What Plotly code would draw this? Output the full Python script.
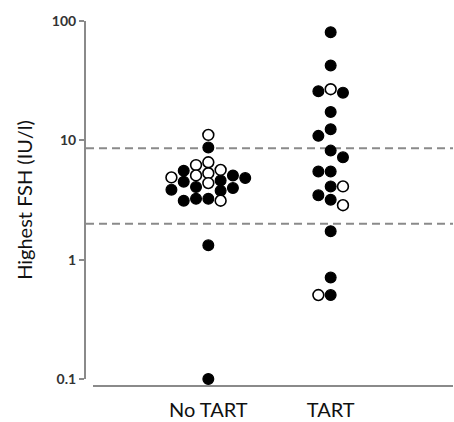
import math
import plotly.graph_objects as go

# ---------------- data ----------------
categories = ["No TART", "TART"]

no_tart_values = [11.1, 8.7, 6.55, 6.2, 5.65, 5.55, 5.3, 5.08, 5.08, 4.89, 4.83,
                  4.6, 4.5, 4.38, 4.06, 3.98, 3.86, 3.78, 3.24, 3.24, 3.12, 3.12,
                  1.32, 0.1]
no_tart_open = [True, False, True, True, True, False, True, True, False, True, False,
                False, False, True, False, False, False, False, False, False, True, False,
                False, False]

tart_values = [80.5, 42.4, 26.8, 25.8, 25.1, 17.3, 12.4, 10.9, 8.2, 7.2, 5.48, 5.48,
               4.11, 4.11, 3.46, 3.18, 2.86, 1.73, 0.708, 0.505, 0.505]
tart_open = [False, False, True, False, False, False, False, False, False, False, False, False,
             False, True, False, False, True, False, False, False, True]

reference_lines = [8.6, 2.0]

ytick_vals = [0.1, 1, 10, 100]
ytick_text = ["0.1", "1", "10", "100"]

# ---------------- layout geometry ----------------
W, H = 454, 422
ML, MR, MT, MB = 86, 1, 21, 40
plot_h = H - MT - MB
plot_w = W - ML - MR
y_log_range = [-1, 2]
x_range = [-1, 2]
px_per_decade = plot_h / (y_log_range[1] - y_log_range[0])
px_per_xunit = plot_w / (x_range[1] - x_range[0])

marker_d = 12.3          # px, marker diameter incl. outline
slot_w = marker_d / px_per_xunit
dmin = 9.5               # px vertical clearance within a slot


def beeswarm(values):
    """Greedy slot-based beeswarm; returns x offsets in axis units."""
    order = sorted(range(len(values)), key=lambda i: -values[i])
    placed = {}  # slot -> list of ypix
    offsets = [0.0] * len(values)
    toggle = -1
    for i in order:
        yp = (y_log_range[1] - math.log10(values[i])) * px_per_decade
        k = 0
        chosen = None
        while chosen is None:
            cands = [0] if k == 0 else [toggle * k, -toggle * k]
            for s in cands:
                if all(abs(yp - q) >= dmin for q in placed.get(s, [])):
                    chosen = s
                    break
            k += 1
        if chosen != 0:
            toggle = 1 if chosen < 0 else -1
        placed.setdefault(chosen, []).append(yp)
        offsets[i] = chosen * slot_w
    return offsets


fig = go.Figure()

# dashed reference lines
for v in reference_lines:
    fig.add_trace(go.Scatter(
        x=x_range, y=[v, v], mode="lines",
        line=dict(color="#8a8a8a", width=2, dash="8px,5px"),
        hoverinfo="skip", showlegend=False))

groups = [(no_tart_values, no_tart_open), (tart_values, tart_open)]
for ci, (vals, opens) in enumerate(groups):
    offs = beeswarm(vals)
    for is_open in (False, True):
        xs = [ci + offs[i] for i in range(len(vals)) if opens[i] == is_open]
        ys = [vals[i] for i in range(len(vals)) if opens[i] == is_open]
        fig.add_trace(go.Scatter(
            x=xs, y=ys, mode="markers", showlegend=False, cliponaxis=False,
            marker=dict(size=10.8, color="white" if is_open else "black",
                        line=dict(color="black", width=1.6 if is_open else 1.2))))

# detached x axis line
fig.add_shape(type="line", xref="paper", yref="paper",
              x0=7 / plot_w, x1=1, y0=-7 / plot_h, y1=-7 / plot_h,
              line=dict(color="#8a8a8a", width=2))

fig.update_layout(
    width=W, height=H,
    margin=dict(l=ML, r=MR, t=MT, b=MB),
    paper_bgcolor="white", plot_bgcolor="white",
    font=dict(family="Lato", color="#222"),
    xaxis=dict(range=x_range, tickvals=[0, 1], ticktext=categories,
               showgrid=False, zeroline=False, showline=False, ticks="",
               tickfont=dict(size=20, color="#111"), ticklabelstandoff=17),
    yaxis=dict(type="log", range=y_log_range, tickvals=ytick_vals, ticktext=ytick_text,
               showgrid=False, zeroline=False, showline=True, linecolor="#8a8a8a",
               linewidth=2, ticks="outside", ticklen=5, tickwidth=2, tickcolor="#8a8a8a",
               tickfont=dict(size=14, color="#333", weight="bold"),
               title=dict(text="Highest FSH (IU/l)", font=dict(size=20, color="#111"),
                          standoff=14)),
)

fig.write_html("out.html")
